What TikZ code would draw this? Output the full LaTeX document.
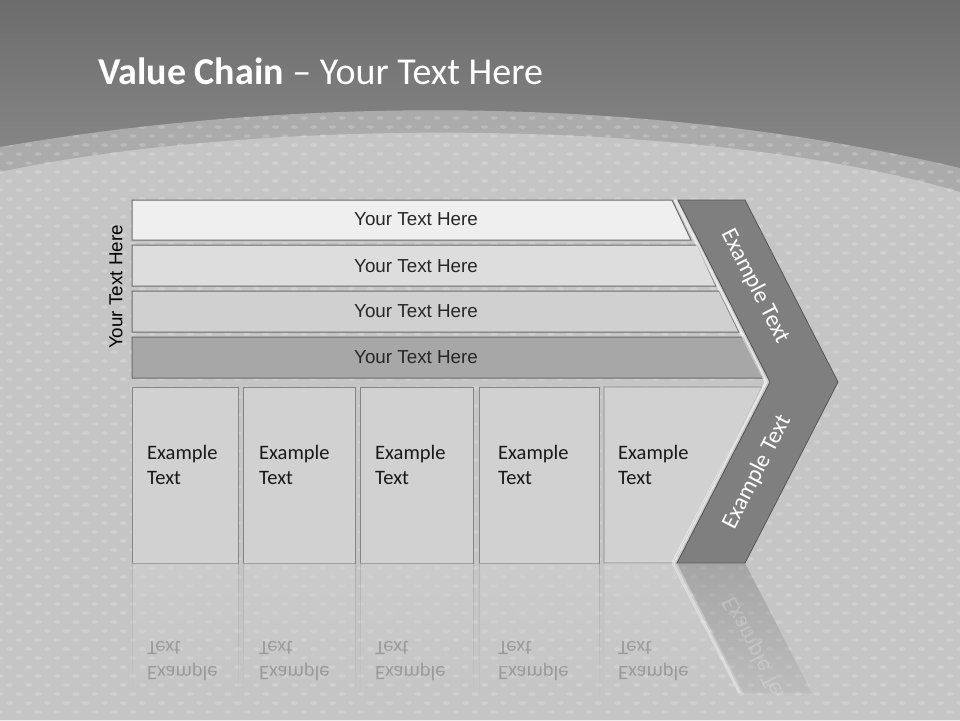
\documentclass[tikz,border=0pt]{standalone}
\usepackage{fontspec}
\setmainfont{Carlito}
\newfontfamily\arialfont{Liberation Sans}
\usetikzlibrary{positioning,fadings}

\definecolor{topgray}{HTML}{6C6C6C}
\definecolor{midgray}{HTML}{8E8E8E}
\definecolor{bandgray}{HTML}{ABABAB}
\definecolor{plategray}{HTML}{C5C5C5}
\definecolor{bordergray}{HTML}{6B6B6B}
\definecolor{barone}{HTML}{EFEFEF}
\definecolor{bartwo}{HTML}{DDDDDD}
\definecolor{barthree}{HTML}{D0D0D0}
\definecolor{barfour}{HTML}{A7A7A7}
\definecolor{boxgray}{HTML}{D1D1D1}
\definecolor{boxborder}{HTML}{858585}
\definecolor{chevgray}{HTML}{7F7F7F}
\definecolor{chevborder}{HTML}{555555}

\begin{document}
\begin{tikzpicture}[
    x=1pt, y=-1pt,
    % Style definitions
    barshape/.style={draw=bordergray, line width=1pt},
    bartext/.style={font=\arialfont\fontsize{18.8}{22}\selectfont, text=black!85},
    boxshape/.style={draw=boxborder, fill=boxgray, line width=0.8pt},
    boxtext/.style={font=\fontsize{20.5}{25}\selectfont, align=left, anchor=west, inner sep=0pt, text=black!90},
    chevshape/.style={draw=chevborder, fill=chevgray, line width=0.8pt},
    chevtext/.style={font=\fontsize{23.5}{26}\selectfont, text=white},
    reflect/.style={fill=boxgray, fill opacity=0.55, draw=boxborder, draw opacity=0.35, path fading=south},
    reflecttext/.style={boxtext, yscale=-1, text opacity=0.25}
]
\useasboundingbox (0,0) rectangle (960,720);

% Background
\shade[top color=topgray, bottom color=midgray] (0,0) rectangle (960,200);
\fill[bandgray] (0,147) .. controls (300,95) and (650,95) .. (960,168) -- (960,720) -- (0,720) -- cycle;
\fill[plategray] (0,172) .. controls (250,118) and (700,115) .. (960,192) -- (960,720) -- (0,720) -- cycle;
\begin{scope}
    \clip (0,147) .. controls (300,95) and (650,95) .. (960,168) -- (960,720) -- (0,720) -- cycle;
    \foreach \r in {0,...,66}{
        \foreach \c in {0,...,51}{
            \fill[white, opacity=0.2] ({\c*19+mod(\r,2)*9.5}, {118+\r*9}) ellipse (3.5 and 1.8);
        }
    }
\end{scope}

% Title
\node[anchor=base west, inner sep=0pt, text=white, font=\fontsize{38}{42}\selectfont] (title) at (98,84) {\textbf{Value Chain} – Your Text Here};

% Side label
\node[bartext, rotate=90, text=black] (side) at (116,287) {Your Text Here};

% Support activities
\draw[barshape, fill=barone] (132,200) -- (672,200) -- (691,240) -- (132,240) -- cycle;
\draw[barshape, fill=bartwo] (132,245) -- (697,245) -- (716,286) -- (132,286) -- cycle;
\draw[barshape, fill=barthree] (132,291) -- (719,291) -- (739,332) -- (132,332) -- cycle;
\draw[barshape, fill=barfour] (132,337) -- (743,337) -- (763,378) -- (132,378) -- cycle;
\node[bartext] (bar1) at (416,219) {Your Text Here};
\node[bartext] (bar2) at (416,266) {Your Text Here};
\node[bartext] (bar3) at (416,311) {Your Text Here};
\node[bartext] (bar4) at (416,357) {Your Text Here};

% Primary activities
\draw[boxshape] (132,387) rectangle (238,563);
\draw[boxshape] (243,387) rectangle (355,563);
\draw[boxshape] (360,387) rectangle (473,563);
\draw[boxshape] (479,387) rectangle (599,563);
\draw[boxshape] (604,387) -- (762,387) -- (673,563) -- (604,563) -- cycle;
\node[boxtext] (act1) at (147,465) {Example\\Text};
\node[boxtext] (act2) at (259,465) {Example\\Text};
\node[boxtext] (act3) at (375,465) {Example\\Text};
\node[boxtext] (act4) at (498,465) {Example\\Text};
\node[boxtext] (act5) at (618,465) {Example\\Text};

% Margin chevron
\draw[white, opacity=0.6, line width=3pt] (675,200) -- (766,382) -- (673,563);
\draw[chevshape] (678,200) -- (745,200) -- (838,382) -- (745,563) -- (677,563) -- (770,382) -- cycle;
\node[chevtext, rotate=-63] (margin1) at (755,286) {Example Text};
\node[chevtext, rotate=63] (margin2) at (757,472) {Example Text};

% Reflection
\draw[reflect] (132,563) rectangle (238,700);
\draw[reflect] (243,563) rectangle (355,700);
\draw[reflect] (360,563) rectangle (473,700);
\draw[reflect] (479,563) rectangle (599,700);
\draw[reflect] (604,563) -- (673,563) -- (742,700) -- (604,700) -- cycle;
\node[reflecttext] at (147,661) {Example\\Text};
\node[reflecttext] at (259,661) {Example\\Text};
\node[reflecttext] at (375,661) {Example\\Text};
\node[reflecttext] at (498,661) {Example\\Text};
\node[reflecttext] at (618,661) {Example\\Text};
\begin{scope}
    \clip (600,563) rectangle (860,692);
    \draw[white, opacity=0.4, line width=3pt] (673,563) -- (766,744);
    \fill[chevgray, fill opacity=0.45, path fading=south] (677,563) -- (745,563) -- (838,744) -- (770,744) -- cycle;
    \node[chevtext, yscale=-1, rotate=63, text opacity=0.22] at (757,654) {Example Text};
\end{scope}

\end{tikzpicture}
\end{document}
